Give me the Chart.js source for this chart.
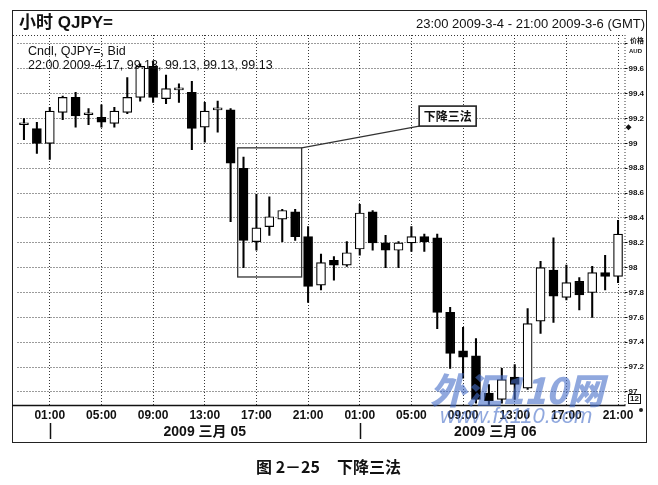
<!DOCTYPE html>
<html><head><meta charset="utf-8">
<script src="https://cdn.jsdelivr.net/npm/chart.js@4.4.1/dist/chart.umd.min.js"></script>
<style>
html,body{margin:0;padding:0;background:#fff;}
#wrap{position:relative;width:658px;height:485px;overflow:hidden;font-family:Arial,"Liberation Sans","Noto Sans CJK SC",sans-serif;color:#111;}
#frame{position:absolute;left:12px;top:10px;width:633px;height:431px;border:1.5px solid #222;}
canvas{position:absolute;left:0;top:0;}
.t{position:absolute;white-space:nowrap;line-height:1;}
.cjk{font-family:"Noto Sans CJK SC","Liberation Sans",sans-serif;}
</style></head><body>
<div id="wrap">
<div id="frame"></div>
<canvas id="c" width="658" height="485"></canvas>
<div class="t" style="left:19px;top:14px;font-size:17px;font-weight:bold;">小时 QJPY=</div>
<div class="t" style="right:13px;top:17px;font-size:13px;">23:00 2009-3-4 - 21:00 2009-3-6 (GMT)</div>
<div class="t" style="left:28px;top:45px;font-size:12.5px;">Cndl, QJPY=, Bid</div>
<div class="t" style="left:28px;top:59px;font-size:12.5px;">22:00 2009-4-17, 99.13, 99.13, 99.13, 99.13</div>
<div class="t cjk" style="left:630px;top:37px;font-size:7px;font-weight:bold;">价格</div>
<div class="t" style="left:629px;top:48px;font-size:6px;font-weight:bold;">AUD</div>
<div class="t" style="left:628px;top:394px;font-size:8px;font-weight:bold;border:1px solid #111;padding:0 1px;">12</div>
<div class="t" style="left:639px;top:408px;width:4px;height:4px;border-radius:50%;background:#222;"></div>
<div class="t cjk" style="left:430px;top:370px;font-size:36px;font-weight:900;font-style:italic;color:rgba(70,110,200,0.6);">外汇110网</div>
<div class="t" style="left:440px;top:405px;font-size:22px;font-style:italic;color:rgba(70,110,200,0.6);">www.fx110.com</div>
<div class="t cjk" style="left:256px;top:458px;font-size:16px;font-weight:bold;">图 2－25</div>
<div class="t cjk" style="left:337px;top:458px;font-size:16px;font-weight:bold;">下降三法</div>
</div>
<script>
// ---- data ----
const timeLabels = ['23:00','00:00','01:00','02:00','03:00','04:00','05:00','06:00','07:00','08:00','09:00','10:00','11:00','12:00','13:00','14:00','15:00','16:00','17:00','18:00','19:00','20:00','21:00','22:00','23:00',
'00:00','01:00','02:00','03:00','04:00','05:00','06:00','07:00','08:00','09:00','10:00','11:00','12:00','13:00','14:00','15:00','16:00','17:00','18:00','19:00','20:00','21:00'];
const openP  = [99.15,99.12,99.00,99.25,99.37,99.23,99.21,99.16,99.25,99.37,99.62,99.36,99.43,99.41,99.13,99.27,99.27,98.80,98.21,98.33,98.39,98.45,98.25,97.86,98.06,98.02,98.15,98.45,98.20,98.14,98.20,98.25,98.24,97.64,97.33,97.29,96.99,96.94,97.12,97.03,97.57,97.98,97.76,97.89,97.80,97.96,97.93];
const highP  = [99.20,99.17,99.29,99.38,99.41,99.28,99.31,99.29,99.53,99.64,99.66,99.55,99.48,99.50,99.33,99.34,99.28,98.89,98.59,98.57,98.47,98.47,98.33,98.11,98.09,98.21,98.51,98.46,98.26,98.21,98.33,98.27,98.27,97.68,97.52,97.43,97.06,97.19,97.22,97.67,98.05,98.24,98.02,97.92,98.01,98.10,98.38];
const lowP   = [99.03,98.92,98.87,99.19,99.13,99.15,99.13,99.13,99.24,99.34,99.33,99.32,99.33,98.95,99.01,99.09,98.37,98.00,98.14,98.26,98.21,98.22,97.72,97.82,97.90,98.01,98.10,98.14,98.00,98.00,98.13,98.13,97.51,97.19,97.11,96.91,96.90,96.91,96.94,97.02,97.47,97.56,97.74,97.66,97.60,97.82,97.88];
const closeP = [99.15,99.00,99.26,99.37,99.22,99.23,99.17,99.26,99.37,99.62,99.37,99.44,99.43,99.12,99.26,99.27,98.84,98.22,98.32,98.41,98.46,98.25,97.85,98.04,98.02,98.12,98.44,98.20,98.14,98.20,98.25,98.21,97.64,97.31,97.28,96.94,96.93,97.10,97.06,97.55,98.00,97.77,97.88,97.78,97.96,97.93,98.27];
const xTickLabels = ['01:00','05:00','09:00','13:00','17:00','21:00'];
const yTickValues = [97.0,97.2,97.4,97.6,97.8,98.0,98.2,98.4,98.6,98.8,99.0,99.2,99.4,99.6,99.8];
const yTickLabels = ['97','97.2','97.4','97.6','97.8','98','98.2','98.4','98.6','98.8','99','99.2','99.4','99.6',''];
const dayLabels = ['2009 三月 05','2009 三月 06'];
const dayLabelAt = [14, 36.5];
const dayMarkAt = [2, 26];
const lastPrice = 99.13;
// annotation (data units: category index / price)
const annoBox = {x0:16.55, x1:21.5, y0:98.964, y1:97.925};
const annoLabel = {text:'下降三法', x:30.6, y:99.30, w:57, h:20};

const DOT = 'rgba(20,20,20,0.85)';
const markers = {
  id:'markers',
  afterDraw(chart){
    const {ctx, chartArea:a, scales:{x,y}} = chart;
    ctx.save();
    // dotted top border and right axis line
    ctx.strokeStyle = DOT; ctx.lineWidth = 1; ctx.setLineDash([1,2]);
    ctx.beginPath(); ctx.moveTo(13, a.top+0.5); ctx.lineTo(a.right, a.top+0.5); ctx.stroke();
    ctx.beginPath(); ctx.moveTo(a.right+0.5, a.top); ctx.lineTo(a.right+0.5, a.bottom); ctx.stroke();
    ctx.setLineDash([]);
    // bottom axis line
    ctx.strokeStyle = '#111'; ctx.lineWidth = 1.5;
    ctx.beginPath(); ctx.moveTo(12, a.bottom+0.5); ctx.lineTo(a.right+1, a.bottom+0.5); ctx.stroke();
    // day labels and marks
    ctx.fillStyle = '#111'; ctx.font = 'bold 14px Arial, "Liberation Sans", "Noto Sans CJK SC"';
    ctx.textAlign = 'center'; ctx.textBaseline = 'middle';
    dayLabels.forEach((t,i)=>{ ctx.fillText(t, x.getPixelForValue(dayLabelAt[i]), a.bottom+27); });
    ctx.lineWidth = 1.5;
    dayMarkAt.forEach(v=>{ const px = Math.round(x.getPixelForValue(v))+0.5; ctx.beginPath(); ctx.moveTo(px, a.bottom+18); ctx.lineTo(px, a.bottom+34); ctx.stroke(); });
    // last price marker
    const py = y.getPixelForValue(lastPrice), mx = a.right+4;
    ctx.beginPath(); ctx.moveTo(mx, py-3); ctx.lineTo(mx+3, py); ctx.lineTo(mx, py+3); ctx.lineTo(mx-3, py); ctx.closePath(); ctx.fill();
    // annotation
    const bx0 = x.getPixelForValue(annoBox.x0), bx1 = x.getPixelForValue(annoBox.x1);
    const by0 = y.getPixelForValue(annoBox.y0), by1 = y.getPixelForValue(annoBox.y1);
    ctx.strokeStyle = '#333'; ctx.lineWidth = 1.3;
    ctx.strokeRect(bx0, by0, bx1-bx0, by1-by0);
    const lx = x.getPixelForValue(annoLabel.x), ly = y.getPixelForValue(annoLabel.y);
    ctx.beginPath(); ctx.moveTo(bx1, by0); ctx.lineTo(lx, ly+annoLabel.h); ctx.stroke();
    ctx.fillStyle = '#fff'; ctx.fillRect(lx, ly, annoLabel.w, annoLabel.h);
    ctx.lineWidth = 1.6; ctx.strokeStyle = '#222'; ctx.strokeRect(lx, ly, annoLabel.w, annoLabel.h);
    ctx.fillStyle = '#111'; ctx.font = 'bold 12px "Noto Sans CJK SC"';
    ctx.fillText(annoLabel.text, lx+annoLabel.w/2, ly+annoLabel.h/2+0.5);
    ctx.restore();
  }
};

new Chart(document.getElementById('c'), {
  type:'bar',
  data:{
    labels: timeLabels,
    datasets:[
      { label:'body', data: openP.map((o,i)=>[o, closeP[i]]),
        backgroundColor: openP.map((o,i)=> closeP[i] >= o ? '#ffffff' : '#000000'),
        borderColor:'#000', borderWidth:1.2, borderSkipped:false,
        barThickness:9, grouped:false, minBarLength:2 },
      { label:'wick', data: lowP.map((l,i)=>[l, highP[i]]),
        backgroundColor:'#000', borderWidth:0, barThickness:1.4, grouped:false }
    ]
  },
  options:{
    responsive:false, animation:false, devicePixelRatio:1,
    layout:{padding:{left:17.5, right:11, top:35, bottom:40}},
    plugins:{legend:{display:false}, tooltip:{enabled:false}},
    scales:{
      x:{ type:'category', offset:true,
        grid:{ offset:false, drawTicks:false, lineWidth:1,
          color: c => xTickLabels.includes(timeLabels[c.index]) ? DOT : 'rgba(0,0,0,0)' },
        border:{display:false, dash:[1,2]},
        ticks:{ autoSkip:false, maxRotation:0, padding:3, color:'#111',
          font:{family:'Arial, "Liberation Sans"', size:12, weight:'bold'},
          callback:(v,i)=> xTickLabels.includes(timeLabels[i]) ? timeLabels[i] : '' },
        afterFit: s => { s.height = 40; } },
      y:{ position:'right', min:96.895, max:99.872,
        afterBuildTicks: s => { s.ticks = yTickValues.map(v=>({value:v})); },
        grid:{ color:DOT, lineWidth:1, tickLength:3, tickColor:'#111' },
        border:{display:false, dash:[1,2]},
        ticks:{ padding:1, color:'#111', font:{family:'Arial, "Liberation Sans"', size:8, weight:'bold'},
          callback:(v,i)=> yTickLabels[i] },
        afterFit: s => { s.width = 22.5; } }
    }
  },
  plugins:[markers]
});
</script>
</body></html>
